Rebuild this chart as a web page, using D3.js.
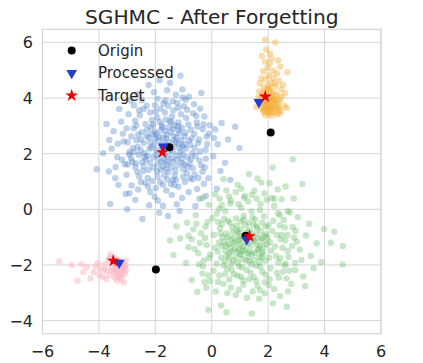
<!DOCTYPE html>
<html>
<head>
<meta charset="utf-8">
<script src="https://cdn.jsdelivr.net/npm/d3@7"></script>
<style>
  html, body { margin: 0; padding: 0; background: #fff; }
  svg { display: block; font-family: "DejaVu Sans", sans-serif; }
</style>
</head>
<body>
<div id="chart"></div>
<script>
// cluster samples [x, y]
const blueCluster = [
  [-1.62,2.31],[-1.15,2.74],[-2.08,1.86],[-1.43,1.52],[-0.92,2.18],[-2.31,2.63],[-1.77,3.02],[-1.24,1.94],[-0.71,2.55],[-2.46,1.71],
  [-1.88,2.47],[-1.36,2.89],[-1.05,1.67],[-2.12,3.21],[-1.54,1.33],[-0.83,3.05],[-2.63,2.24],[-1.69,1.78],[-1.28,2.41],[-1.97,2.12],
  [-0.58,1.92],[-2.24,1.42],[-1.41,3.34],[-1.83,0.98],[-1.12,2.06],[-2.77,2.91],[-0.96,2.63],[-1.59,2.68],[-2.02,2.79],[-1.31,1.21],
  [-0.67,1.48],[-2.39,2.02],[-1.73,1.54],[-1.18,3.12],[-2.55,3.38],[-1.47,2.13],[-0.88,1.31],[-1.92,1.62],[-1.06,2.93],[-2.18,2.41],
  [-1.66,3.48],[-0.49,2.38],[-2.86,1.83],[-1.38,1.72],[-1.81,2.84],[-0.74,2.86],[-2.27,1.13],[-1.52,2.96],[-1.01,1.43],[-2.04,2.33],
  [-1.25,2.58],[-1.94,1.37],[-0.62,2.71],[-2.48,2.77],[-1.56,1.91],[-1.09,3.42],[-2.71,1.52],[-1.34,2.25],[-0.86,1.86],[-1.74,2.16],
  [-2.15,2.95],[-1.45,0.91],[-0.97,2.34],[-2.35,3.07],[-1.61,2.55],[-1.21,1.58],[-1.99,3.52],[-0.78,1.64],[-2.58,1.95],[-1.68,1.22],
  [-1.14,2.21],[-1.87,2.61],[-0.53,3.12],[-2.21,2.18],[-1.49,3.17],[-1.02,1.98],[-2.42,1.56],[-1.79,1.71],[-1.32,3.01],[-0.69,2.02],
  [-2.67,2.48],[-1.57,1.61],[-1.17,2.84],[-2.07,1.51],[-0.91,3.28],[-1.71,2.38],[-2.29,2.86],[-1.39,2.08],[-0.81,2.47],[-1.96,1.96],
  [-1.27,1.06],[-2.52,2.13],[-1.63,3.23],[-1.08,2.49],[-2.11,2.71],[-0.44,1.76],[-1.85,3.15],[-1.42,1.84],[-2.33,1.78],[-0.99,3.71],
  [-3.12,2.44],[-3.35,1.87],[-2.95,3.42],[-3.02,1.24],[-3.48,2.81],[-2.84,0.86],[-3.21,3.15],[-2.91,2.06],[-3.63,2.49],[-3.73,3.07],
  [-4.08,1.44],[-3.41,1.52],[-2.76,3.74],[-3.05,0.55],[-3.55,2.18],[-2.61,0.71],[-3.28,3.61],[-3.85,2.02],[-2.98,1.61],[-3.15,2.72],
  [-0.18,2.62],[0.05,1.91],[-0.26,3.34],[0.35,3.1],[0.21,2.34],[-0.33,1.35],[0.98,2.2],[0.83,2.97],[-0.12,1.12],[0.47,1.67],
  [-0.41,3.62],[0.12,2.88],[-0.28,0.92],[0.58,2.51],[-0.07,3.02],[0.31,1.38],[-0.52,0.73],[0.66,1.06],[0.18,0.74],[-0.22,2.14],
  [-1.11,4.8],[-2.24,4.47],[-1.58,4.28],[-1.92,3.98],[-1.27,4.12],[-2.48,3.93],[-0.81,4.05],[-1.71,3.81],[-2.05,4.21],[-1.38,3.88],
  [-0.92,3.94],[-2.62,4.14],[-1.48,4.55],[-0.63,3.78],[-2.88,3.91],[-1.04,4.31],[-1.85,4.64],[-0.37,4.18],[-2.31,3.72],[-1.19,3.65],
  [-2.46,-0.35],[-3.0,0.0],[-3.6,0.19],[-1.91,0.31],[-1.42,0.52],[-2.18,0.62],[-1.05,0.41],[-1.73,0.13],[-2.71,0.34],[-1.24,0.18],
  [-0.82,0.62],[-2.35,0.94],[-1.61,0.68],[-0.95,0.98],[-1.98,0.77],[-0.43,0.38],[-2.57,1.18],[-1.32,0.87],[-0.68,1.08],[-2.02,0.45],
  [-1.86,-0.12],[-1.14,-0.06],[-2.22,0.15],[-0.58,0.12],[-1.55,-0.24],[-3.31,0.88],[-0.21,0.48],[-2.92,0.58],[-3.65,1.36],[-3.42,1.12],
  [-1.51,2.43],[-1.79,2.27],[-1.22,1.79],[-2.01,2.55],[-1.35,2.64],[-1.68,1.97],[-0.94,2.75],[-2.19,1.67],[-1.46,2.77],[-1.89,1.84],
  [-1.03,2.27],[-2.41,2.38],[-1.62,1.44],[-0.76,2.32],[-2.09,3.05],[-1.29,1.39],[-1.75,2.95],[-2.28,1.93],[-0.85,1.53],[-1.53,2.18],
  [-1.96,2.69],[-1.16,2.36],[-2.61,2.69],[-1.43,3.14],[-0.61,2.21],[-1.81,1.42],[-2.14,2.23],[-1.07,1.83],[-2.51,2.51],[-1.65,2.82],
  [-1.19,2.99],[-2.37,1.89],[-0.73,1.81],[-1.58,1.71],[-1.93,3.31],[-1.33,2.48],[-2.23,2.59],[-0.98,1.61],[-1.72,2.58],[-2.69,1.66],
  [-2.85,2.62],[-2.72,3.18],[-3.02,2.91],[-2.64,1.34],[-2.93,1.97],[-2.51,0.98],[-2.79,2.21],[-3.18,1.78],[-2.58,3.56],[-3.33,2.36],
  [-0.32,2.88],[-0.45,2.51],[-0.21,1.82],[-0.38,1.58],[-0.55,3.36],[-0.16,2.35],[-0.47,1.13],[-0.29,3.06],[0.08,2.56],[-0.61,1.25],
  [-1.64,3.91],[-2.01,3.74],[-1.22,3.82],[-1.81,3.62],[-1.36,3.56],[-2.18,3.48],[-0.87,3.58],[-1.55,3.72],[-2.42,3.61],[-1.03,4.02],
  [-1.73,0.88],[-2.11,1.02],[-1.38,1.05],[-1.92,1.18],[-1.18,0.81],[-2.43,1.38],[-0.78,1.12],[-1.58,1.08],[-2.26,0.82],[-1.01,1.17],
  [-2.76,2.05],[-0.42,2.08],[-2.98,2.41],[-0.09,2.72],[-2.67,3.01],[-0.51,2.97],[-3.08,1.62],[-0.25,1.51],[-2.82,1.71],[-0.66,3.45]
]

const greenCluster = [
  [1.21,-1.18],[0.74,-0.82],[1.63,-1.47],[0.92,-1.91],[1.48,-0.54],[0.35,-1.32],[1.87,-0.96],[1.05,-1.63],[0.58,-0.41],[2.04,-1.74],
  [1.34,-0.73],[0.81,-1.44],[1.72,-2.06],[0.46,-1.87],[1.12,-0.37],[1.95,-1.26],[0.67,-1.08],[1.41,-1.98],[0.29,-0.68],[1.79,-0.47],
  [1.01,-1.27],[0.55,-2.13],[1.56,-0.88],[0.88,-0.59],[2.15,-0.78],[1.27,-1.56],[0.38,-1.01],[1.67,-1.71],[0.97,-2.04],[1.84,-1.38],
  [0.62,-1.58],[1.45,-0.29],[0.21,-1.52],[1.16,-0.94],[2.08,-2.12],[0.77,-1.23],[1.52,-1.14],[0.43,-0.34],[1.91,-0.62],[1.08,-1.79],
  [0.69,-1.96],[1.38,-1.32],[1.76,-1.05],[0.51,-0.87],[1.24,-2.18],[2.11,-1.49],[0.86,-0.33],[1.59,-0.61],[0.33,-1.74],[1.02,-0.72],
  [1.69,-1.89],[0.95,-1.41],[1.31,-0.48],[0.59,-1.25],[1.98,-1.02],[1.18,-1.46],[0.42,-2.01],[1.82,-1.61],[0.73,-0.64],[1.49,-1.82],
  [1.13,-0.23],[0.26,-1.19],[1.61,-1.27],[0.84,-1.71],[2.18,-0.41],[1.36,-0.97],[0.64,-0.48],[1.74,-0.79],[0.99,-0.96],[1.43,-1.62],
  [0.48,-1.49],[1.89,-1.85],[1.07,-2.09],[0.79,-1.03],[1.54,-0.36],[1.25,-0.81],[0.31,-0.86],[2.01,-0.57],[0.93,-1.52],[1.65,-1.03],
  [0.71,-2.17],[1.29,-1.71],[1.85,-0.25],[0.53,-1.68],[1.11,-1.34],[1.58,-2.03],[0.36,-0.53],[2.06,-1.18],[0.89,-0.77],[1.44,-1.11],
  [1.19,-0.57],[0.66,-1.37],[1.78,-1.53],[1.04,-0.44],[0.45,-1.16],[1.93,-0.89],[1.33,-1.87],[0.76,-1.85],[1.62,-0.67],[0.96,-1.12],
  [-0.42,-1.21],[-0.65,-0.72],[-0.28,-1.84],[-0.83,-1.36],[-0.15,-0.46],[-1.36,-1.64],[-0.71,-2.54],[-0.51,-2.96],[-0.92,-1.93],[-0.33,-2.31],
  [-1.12,-1.05],[-0.57,-0.21],[-0.06,-2.58],[-1.48,-1.12],[-0.24,-1.03],[-0.87,-0.48],[-0.11,0.16],[-1.25,-0.61],[-0.48,-1.58],[-0.19,-2.82],
  [2.61,-1.12],[2.87,-0.64],[2.43,-1.76],[3.12,-1.45],[2.74,-2.21],[3.34,-0.94],[2.55,-0.38],[2.96,-1.93],[3.51,-1.68],[2.38,-2.45],
  [3.05,-0.28],[2.69,-1.49],[3.72,-1.22],[4.34,-0.8],[4.65,-1.32],[4.64,-1.98],[4.22,-1.2],[3.88,-1.9],[3.24,-2.41],[2.82,-2.68],
  [3.45,-0.52],[2.49,-0.92],[3.61,-2.12],[2.92,-1.02],[3.18,-1.82],[2.58,-2.02],[3.98,-0.71],[2.35,-0.14],[3.31,-2.76],[2.77,-0.11],
  [-0.12,-3.62],[1.42,-3.74],[0.33,-3.46],[0.52,-3.7],[2.66,-3.5],[0.85,-3.08],[1.68,-3.21],[0.14,-2.95],[2.21,-2.86],[1.12,-2.71],
  [0.62,-2.52],[1.87,-2.62],[0.27,-2.38],[1.49,-2.44],[2.42,-3.12],[0.96,-2.89],[1.71,-2.91],[0.41,-2.68],[2.05,-2.51],[1.25,-3.18],
  [0.78,-2.33],[1.58,-2.57],[2.31,-2.28],[0.06,-2.21],[1.03,-2.42],[2.17,-3.38],[1.91,-2.35],[0.55,-3.01],[1.33,-2.51],[2.71,-2.95],
  [2.87,1.8],[2.16,1.5],[1.32,1.27],[0.42,1.08],[1.76,0.96],[0.85,0.62],[2.34,0.71],[1.18,0.48],[0.12,0.54],[1.95,0.34],
  [2.62,0.82],[0.66,0.21],[1.51,0.67],[0.27,0.02],[2.21,0.13],[1.04,0.06],[1.73,0.19],[0.48,-0.07],[2.48,0.36],[1.29,0.28],
  [0.92,0.88],[1.62,1.11],[2.05,0.94],[0.61,0.46],[3.21,0.91],[2.91,0.39],[1.41,-0.08],[0.18,-0.15],[2.69,-0.07],[-0.32,0.41],
  [1.15,-1.02],[0.83,-1.18],[1.52,-1.56],[1.28,-1.24],[0.99,-1.61],[1.71,-1.31],[0.57,-0.99],[1.39,-0.86],[1.09,-1.49],[1.83,-1.14],
  [0.71,-1.52],[1.46,-1.05],[1.22,-1.84],[0.94,-0.84],[1.66,-1.42],[0.49,-1.31],[1.35,-1.53],[1.03,-1.07],[1.77,-1.72],[0.61,-1.76],
  [2.25,-1.33],[2.32,-0.92],[0.12,-1.38],[0.08,-0.92],[2.28,-1.68],[0.17,-1.95],[2.41,-0.58],[0.22,-0.45],[2.36,-1.91],[-0.05,-1.62],
  [-0.38,-0.86],[-0.61,-1.43],[-0.22,-0.62],[-0.71,-1.08],[-0.45,-1.97],[-0.18,-1.28],[-0.82,-0.95],[-0.31,-2.05],[-0.54,-0.52],[-0.09,-1.76],
  [2.51,-1.38],[2.68,-0.92],[2.72,-1.71],[2.44,-1.08],[2.85,-1.32],[2.59,-0.65],[3.02,-1.16],[2.62,-1.95],[2.97,-0.78],[2.53,-2.24],
  [1.14,0.42],[0.68,0.32],[1.59,0.38],[0.36,0.15],[1.87,0.57],[0.95,0.18],[2.12,0.41],[1.42,0.52],[0.52,0.68],[1.71,-0.02],
  [0.91,-2.38],[1.38,-2.28],[0.47,-2.32],[1.79,-2.24],[1.12,-2.55],[0.68,-2.81],[1.62,-2.75],[0.22,-2.61],[2.02,-2.72],[1.45,-2.95],
  [0.02,-0.32],[2.41,-0.21],[-0.12,-2.38],[2.65,-2.48],[0.28,0.38],[2.22,0.38],[-0.26,-2.62],[2.95,-2.18],[1.05,0.74],[1.88,-3.02]
]

const orangeCluster = [
  [1.89,6.1],[2.25,6.0],[1.93,5.74],[2.07,5.6],[1.89,5.3],[2.43,5.13],[2.68,4.93],[2.6,4.17],[2.66,3.65],[1.71,4.53],
  [2.12,5.42],[1.98,5.08],[2.31,4.88],[1.82,4.96],[2.18,4.72],[2.02,4.81],[1.76,4.71],[2.38,4.62],[2.11,4.55],[1.91,4.67],
  [2.26,4.42],[1.85,4.38],[2.04,4.35],[2.47,4.31],[1.68,4.24],[2.15,4.22],[1.95,4.18],[2.33,4.08],[1.79,4.12],[2.08,4.02],
  [2.21,3.97],[1.88,3.94],[2.42,3.92],[1.99,3.88],[2.13,3.84],[1.74,3.86],[2.28,3.79],[1.92,3.76],[2.05,3.72],[2.36,3.7],
  [1.83,3.68],[2.17,3.65],[1.97,3.62],[2.24,3.58],[1.86,3.56],[2.09,3.54],[2.45,3.52],[1.94,3.5],[2.19,3.47],[1.83,3.51],
  [2.01,3.44],[2.31,3.41],[1.9,3.38],[2.12,3.36],[2.03,3.6],[1.96,3.82],[2.2,3.88],[1.81,3.78],[2.14,3.98],[2.27,4.15],
  [1.87,4.05],[2.06,4.28],[2.35,3.85],[1.72,3.96],[2.1,3.66],[1.99,4.45],[2.22,4.52],[1.84,4.21],[2.02,3.95],[2.16,3.75],
  [1.93,3.64],[2.29,3.62],[2.07,3.48],[1.78,3.62],[2.39,3.45],[2.0,3.71],[2.11,4.11],[1.89,3.88],[2.25,3.94],[1.97,4.32],
  [2.52,4.48],[1.65,4.02],[2.06,5.24],[2.35,5.35],[1.78,5.51],[2.18,4.98],[2.4,3.62],[2.58,3.72],[1.58,3.68],[2.48,4.05]
]

const pinkCluster = [
  [-5.41,-1.87],[-4.97,-2.0],[-4.61,-1.97],[-4.76,-2.57],[-4.3,-2.48],[-4.03,-1.93],[-4.42,-2.08],[-4.18,-2.26],[-3.95,-2.14],[-3.86,-2.42],
  [-3.71,-2.21],[-3.78,-1.98],[-3.62,-2.35],[-3.55,-2.08],[-3.48,-2.27],[-3.41,-1.96],[-3.37,-2.16],[-3.31,-2.38],[-3.26,-2.05],[-3.22,-2.24],
  [-3.18,-1.91],[-3.14,-2.12],[-3.1,-2.31],[-3.07,-2.02],[-3.04,-2.19],[-3.28,-1.83],[-3.45,-2.45],[-3.2,-2.52],[-3.12,-2.62],[-3.58,-1.72],
  [-3.67,-1.81],[-3.34,-2.28],[-3.24,-2.11],[-3.16,-1.98],[-3.39,-2.06],[-3.51,-2.19],[-3.29,-2.42],[-3.09,-2.09],[-3.6,-1.62],[-3.43,-1.75],
  [-3.98,-2.37],[-4.12,-2.05],[-3.82,-2.18],[-4.55,-2.25],[-3.74,-2.5],[-3.19,-2.35],[-3.36,-2.56],[-3.05,-1.85],[-3.48,-1.92],[-3.23,-1.94]
]

// origin / processed / target centres
const originPts = [[-1.5,2.23],[2.09,2.76],[-1.98,-2.16],[1.2,-0.95]]
const processedPts = [[-1.72,2.25],[1.67,3.85],[1.24,-1.08],[-3.28,-1.92]]
const targetPts = [[-1.75,2.05],[1.9,4.05],[1.34,-0.97],[-3.49,-1.85]]

const xTicks = [-6, -4, -2, 0, 2, 4, 6]
const yTicks = [-4, -2, 0, 2, 4, 6]
const legendNames = ['Origin', 'Processed', 'Target']

const width = 423
const height = 363
const margin = { top: 29.3, right: 42, bottom: 29.3, left: 42.5 }

const svg = d3.select('#chart')
  .append('svg')
  .attr('width', width)
  .attr('height', height)

const x = d3.scaleLinear()
  .domain([-6, 6])
  .range([margin.left, width - margin.right])

const y = d3.scaleLinear()
  .domain([-4.47, 6.47])
  .range([height - margin.bottom, margin.top])

const fmt = (d) => String(d).replace('-', '\u2212')

// 网格线
const grid = svg.append('g').attr('class', 'grid')
grid.selectAll('line.gx')
  .data(xTicks)
  .enter().append('line')
  .attr('class', 'gx')
  .attr('x1', (d) => x(d)).attr('x2', (d) => x(d))
  .attr('y1', margin.top).attr('y2', height - margin.bottom)
grid.selectAll('line.gy')
  .data(yTicks)
  .enter().append('line')
  .attr('class', 'gy')
  .attr('y1', (d) => y(d)).attr('y2', (d) => y(d))
  .attr('x1', margin.left).attr('x2', width - margin.right)
grid.selectAll('line')
  .attr('stroke', '#d5d5d5')
  .attr('stroke-width', 1)

// 散点
const clusters = [
  { data: blueCluster, color: '#4a7fc8', opacity: 0.36 },
  { data: greenCluster, color: '#55b455', opacity: 0.32 },
  { data: orangeCluster, color: '#f2ab33', opacity: 0.42 },
  { data: pinkCluster, color: '#ffb3c1', opacity: 0.5 }
]
clusters.forEach((c) => {
  svg.append('g')
    .selectAll('circle')
    .data(c.data)
    .enter().append('circle')
    .attr('cx', (d) => x(d[0]))
    .attr('cy', (d) => y(d[1]))
    .attr('r', 3.2)
    .attr('fill', c.color)
    .attr('fill-opacity', c.opacity)
})

const triangle = d3.symbol().type(d3.symbolTriangle).size(50)
const star = d3.symbol().type(d3.symbolStar).size(52)

function drawOrigin(g, pts) {
  g.selectAll('circle')
    .data(pts)
    .enter().append('circle')
    .attr('cx', (d) => x(d[0]))
    .attr('cy', (d) => y(d[1]))
    .attr('r', 4)
    .attr('fill', '#000')
}
function drawProcessed(g, pts) {
  g.selectAll('path')
    .data(pts)
    .enter().append('path')
    .attr('d', triangle)
    .attr('transform', (d) => `translate(${x(d[0])},${y(d[1])}) rotate(180)`)
    .attr('fill', '#1f3fd0')
}
function drawTarget(g, pts) {
  g.selectAll('path')
    .data(pts)
    .enter().append('path')
    .attr('d', star)
    .attr('transform', (d) => `translate(${x(d[0])},${y(d[1])})`)
    .attr('fill', '#ee0000')
}
drawOrigin(svg.append('g'), originPts)
drawProcessed(svg.append('g'), processedPts)
drawTarget(svg.append('g'), targetPts)

// 边框
svg.append('rect')
  .attr('x', margin.left)
  .attr('y', margin.top)
  .attr('width', width - margin.left - margin.right)
  .attr('height', height - margin.top - margin.bottom)
  .attr('fill', 'none')
  .attr('stroke', '#d5d5d5')
  .attr('stroke-width', 1.2)

// 刻度文字
svg.append('g').selectAll('text')
  .data(xTicks)
  .enter().append('text')
  .attr('x', (d) => x(d))
  .attr('y', 357)
  .attr('text-anchor', 'middle')
  .attr('font-size', 16)
  .attr('fill', '#262626')
  .text(fmt)
svg.append('g').selectAll('text')
  .data(yTicks)
  .enter().append('text')
  .attr('x', 33)
  .attr('y', (d) => y(d) + 6)
  .attr('text-anchor', 'end')
  .attr('font-size', 16)
  .attr('fill', '#262626')
  .text(fmt)

// 标题
svg.append('text')
  .attr('x', (margin.left + width - margin.right) / 2)
  .attr('y', 24)
  .attr('text-anchor', 'middle')
  .attr('font-size', 20.2)
  .attr('fill', '#262626')
  .text('SGHMC - After Forgetting')

// 图例
const legend = svg.append('g').attr('class', 'legend')
const rowY = [50.5, 73, 95.5]
legend.append('circle')
  .attr('cx', 71.7).attr('cy', rowY[0]).attr('r', 4).attr('fill', '#000')
legend.append('path')
  .attr('d', triangle)
  .attr('transform', `translate(71.7,${rowY[1]}) rotate(180)`)
  .attr('fill', '#1f3fd0')
legend.append('path')
  .attr('d', star)
  .attr('transform', `translate(71.7,${rowY[2]})`)
  .attr('fill', '#ee0000')
legend.selectAll('text')
  .data(legendNames)
  .enter().append('text')
  .attr('x', 98)
  .attr('y', (d, i) => rowY[i] + 5)
  .attr('font-size', 15)
  .attr('fill', '#262626')
  .text((d) => d)
</script>
</body>
</html>
